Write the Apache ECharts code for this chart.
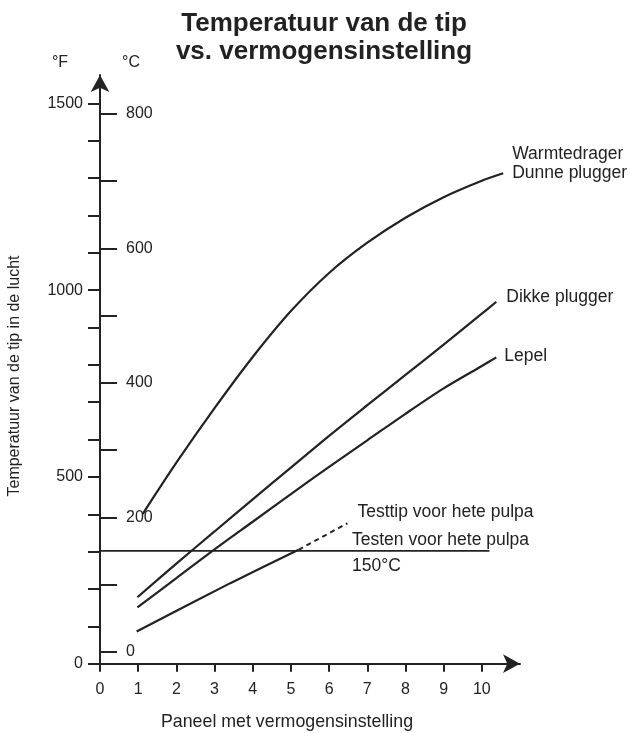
<!DOCTYPE html>
<html>
<head>
<meta charset="utf-8">
<script src="https://cdn.jsdelivr.net/npm/echarts@6/dist/echarts.min.js"></script>
<style>
  html, body { margin: 0; padding: 0; background: #ffffff; }
  #chart { width: 630px; height: 733px; }
</style>
</head>
<body>
<div id="chart"></div>
<script>
// Power setting on the x axis, tip temperature in °F on the main y axis
const xTicks = [0, 1, 2, 3, 4, 5, 6, 7, 8, 9, 10];
const fahrenheitTicks = [0, 100, 200, 300, 400, 500, 600, 700, 800, 900, 1000, 1100, 1200, 1300, 1400, 1500];
const fahrenheitLabels = [0, 500, 1000, 1500];
const celsiusTicks = [0, 100, 200, 300, 400, 500, 600, 700, 800];
const celsiusLabels = [0, 200, 400, 600, 800];

// Heat carrier / thin plugger
const carrierX = [1.12, 2, 3, 4, 5, 6, 7, 8, 9, 10, 10.56];
const carrierF = [401, 538, 684, 821, 944, 1046, 1127, 1194, 1249, 1293, 1313];

// Thick plugger
const thickX = [0.98, 2, 3, 4, 5, 6, 7, 8, 9, 10, 10.38];
const thickF = [178, 268, 354, 440, 525, 610, 692, 773, 854, 937, 969];

// Spoon
const spoonX = [0.98, 2, 3, 4, 5, 6, 7, 8, 9, 10, 10.38];
const spoonF = [151, 229, 306, 380, 454, 527, 598, 669, 737, 797, 820];

// Hot pulp test tip: measured part and extrapolated (dashed) part
const testX = [0.96, 3.40, 5.20];
const testF = [86, 215, 305];
const testDashX = [5.20, 6.48];
const testDashF = [305, 376];

// Hot pulp test reference temperature
const refCelsius = 150;
const refSpan = [0, 10.2];
const refLabelX = 6.6;

const toF = c => c * 9 / 5 + 32;
const toC = f => (f - 32) * 5 / 9;
const pairs = (xs, ys) => xs.map((x, i) => [x, ys[i]]);

const F_MAX = 1576;
const INK = '#222222';
const FONT = 'Liberation Sans, Arial, sans-serif';

const chart = echarts.init(document.getElementById('chart'), null, { renderer: 'canvas' });

const curve = (name, xs, ys, label, extra) => Object.assign({
  name: name,
  type: 'line',
  data: pairs(xs, ys),
  yAxisIndex: 0,
  smooth: 0.3,
  showSymbol: false,
  silent: true,
  lineStyle: { color: INK, width: 2.2 },
  endLabel: label ? Object.assign({
    show: true,
    color: INK,
    fontFamily: FONT,
    fontSize: 17.5
  }, label) : { show: false }
}, extra || {});

const refF = toF(refCelsius);
const plain = v => String(Math.round(v));

chart.setOption({
  animation: false,
  backgroundColor: '#ffffff',
  grid: { left: 100, right: 110, top: 75, bottom: 69.3, containLabel: false, outerBoundsMode: 'none' },
  xAxis: {
    type: 'value',
    min: 0,
    max: 11,
    axisLine: {
      show: true,
      symbol: ['none', 'arrow'],
      symbolSize: [14, 17],
      lineStyle: { color: INK, width: 2 }
    },
    axisTick: { show: true, customValues: xTicks, length: 8, lineStyle: { color: INK, width: 2 } },
    axisLabel: { customValues: xTicks, formatter: plain, margin: 18, fontSize: 16, color: INK, fontFamily: FONT },
    splitLine: { show: false }
  },
  yAxis: [
    {
      type: 'value',
      position: 'left',
      min: 0,
      max: F_MAX,
      axisLine: {
        show: true,
        symbol: ['none', 'arrow'],
        symbolSize: [14, 17],
        lineStyle: { color: INK, width: 2 }
      },
      axisTick: { show: true, customValues: fahrenheitTicks, length: 12, lineStyle: { color: INK, width: 2 } },
      axisLabel: { customValues: fahrenheitLabels, formatter: plain, margin: 17, fontSize: 16, color: INK, fontFamily: FONT },
      splitLine: { show: false }
    },
    {
      type: 'value',
      position: 'left',
      min: toC(0),
      max: toC(F_MAX),
      axisLine: { show: false },
      axisTick: { show: true, inside: true, customValues: celsiusTicks, length: 17, lineStyle: { color: INK, width: 2 } },
      axisLabel: { inside: true, customValues: celsiusLabels, formatter: plain, margin: 26, fontSize: 16, color: INK, fontFamily: FONT },
      splitLine: { show: false }
    }
  ],
  graphic: [
    {
      type: 'text', x: 324, y: 10,
      style: {
        text: 'Temperatuur van de tip\nvs. vermogensinstelling',
        fill: INK, font: 'bold 26px ' + FONT, lineHeight: 28,
        textAlign: 'center', textVerticalAlign: 'top'
      }
    },
    { type: 'text', x: 60, y: 63, style: { text: '°F', fill: INK, font: '16px ' + FONT, textAlign: 'center', textVerticalAlign: 'middle' } },
    { type: 'text', x: 131, y: 63, style: { text: '°C', fill: INK, font: '16px ' + FONT, textAlign: 'center', textVerticalAlign: 'middle' } },
    { type: 'text', x: 287, y: 722, style: { text: 'Paneel met vermogensinstelling', fill: INK, font: '17.8px ' + FONT, textAlign: 'center', textVerticalAlign: 'middle' } },
    { type: 'text', x: 15, y: 376, rotation: Math.PI / 2, style: { text: 'Temperatuur van de tip in de lucht', fill: INK, font: '16px ' + FONT, textAlign: 'center', textVerticalAlign: 'middle' } }
  ],
  series: [
    curve('Warmtedrager / Dunne plugger', carrierX, carrierF,
      { formatter: 'Warmtedrager\nDunne plugger', lineHeight: 19, offset: [1, -10] }),
    curve('Dikke plugger', thickX, thickF, { formatter: 'Dikke plugger', offset: [2, -5] }),
    curve('Lepel', spoonX, spoonF, { formatter: 'Lepel', offset: [0, -1] }),
    curve('Testtip', testX, testF, null, { smooth: 0.2 }),
    curve('Testtip (extrapolatie)', testDashX, testDashF,
      { formatter: 'Testtip voor hete pulpa', offset: [2, -11] },
      { smooth: false, lineStyle: { color: INK, width: 2, type: [5, 4] } }),
    {
      name: 'Testen voor hete pulpa',
      type: 'line',
      data: refSpan.map(x => [x, refF]),
      yAxisIndex: 0,
      showSymbol: false,
      silent: true,
      lineStyle: { color: INK, width: 1.8 }
    },
    {
      name: 'Testen label',
      type: 'scatter',
      data: [[refLabelX, refF]],
      yAxisIndex: 0,
      symbolSize: 0,
      silent: true,
      itemStyle: { opacity: 1 },
      label: {
        show: true,
        position: 'right',
        distance: 0,
        formatter: 'Testen voor hete pulpa\n' + refCelsius + '°C',
        color: INK,
        fontFamily: FONT,
        fontSize: 17.5,
        lineHeight: 26,
        offset: [0, 2]
      }
    }
  ]
});
</script>
</body>
</html>
